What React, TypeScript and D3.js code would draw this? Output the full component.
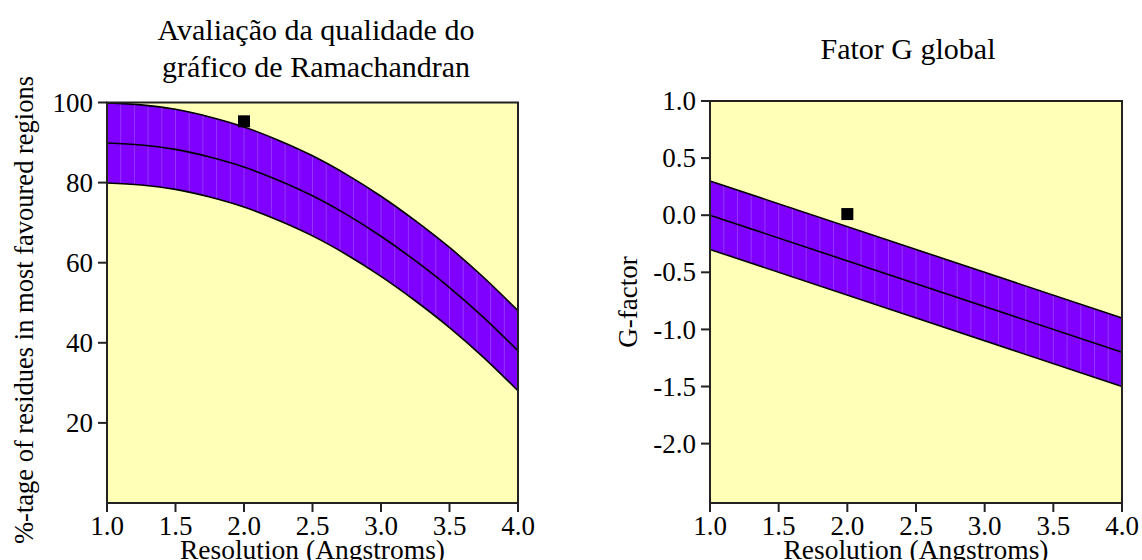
import React from "react";
import * as d3 from "d3";

// ---- Data ----
const ramaRes = [1.0, 1.25, 1.5, 1.75, 2.0, 2.25, 2.5, 2.75, 3.0, 3.25, 3.5, 3.75, 4.0];
const ramaMid = [89.9, 89.4, 88.3, 86.4, 83.9, 80.6, 76.7, 72.0, 66.6, 60.5, 53.8, 46.3, 38.0];
const ramaUpper = [99.9, 99.4, 98.3, 96.4, 93.9, 90.6, 86.7, 82.0, 76.6, 70.5, 63.8, 56.3, 48.0];
const ramaLower = [79.9, 79.4, 78.3, 76.4, 73.9, 70.6, 66.7, 62.0, 56.6, 50.5, 43.8, 36.3, 28.0];
const ramaPoint = { res: 2.0, value: 95.3 };
const ramaTicks = [20, 40, 60, 80, 100];

const gRes = [1.0, 4.0];
const gMid = [0.0, -1.2];
const gUpper = [0.3, -0.9];
const gLower = [-0.3, -1.5];
const gPoint = { res: 2.0, value: 0.01 };
const gTicks = [1.0, 0.5, 0.0, -0.5, -1.0, -1.5, -2.0];

const xTicks = [1.0, 1.5, 2.0, 2.5, 3.0, 3.5, 4.0];

const FONT = "Liberation Serif, Times New Roman, serif";
const BG = "#FFFFB8";
const BAND = "#7F00FF";
const STRIPE = "#9436FF";

type PanelProps = {
  id: string;
  x0: number; x1: number; yTop: number; yBot: number;
  yDomain: [number, number];
  res: number[]; mid: number[]; upper: number[]; lower: number[];
  point: { res: number; value: number };
  yTicks: number[];
  yFmt: (v: number) => string;
  curve: d3.CurveFactory;
};

const txt = (size: number) => ({ fontFamily: FONT, fontSize: size });

function Panel(p: PanelProps) {
  const x = d3.scaleLinear().domain([1, 4]).range([p.x0, p.x1]);
  const y = d3.scaleLinear().domain(p.yDomain).range([p.yBot, p.yTop]);
  const idx = p.res.map((_, i) => i);
  const area = d3
    .area<number>()
    .x((i) => x(p.res[i]))
    .y0((i) => y(p.lower[i]))
    .y1((i) => y(p.upper[i]))
    .curve(p.curve);
  const line = (arr: number[]) =>
    d3.line<number>().x((i) => x(p.res[i])).y((i) => y(arr[i])).curve(p.curve)(idx) || "";
  const stripes = d3.range(1.1, 3.95, 0.1);
  const sq = 12;
  return (
    <g>
      <defs>
        <clipPath id={`band-${p.id}`}>
          <path d={area(idx) || ""} />
        </clipPath>
      </defs>
      <rect x={p.x0} y={p.yTop} width={p.x1 - p.x0} height={p.yBot - p.yTop} fill={BG} />
      <path d={area(idx) || ""} fill={BAND} />
      <g clipPath={`url(#band-${p.id})`}>
        {stripes.map((s, i) => (
          <line key={i} x1={x(s)} x2={x(s)} y1={p.yTop} y2={p.yBot} stroke={STRIPE} strokeWidth={1} />
        ))}
      </g>
      <path d={line(p.upper)} fill="none" stroke="#000" strokeWidth={1.6} />
      <path d={line(p.mid)} fill="none" stroke="#000" strokeWidth={1.6} />
      <path d={line(p.lower)} fill="none" stroke="#000" strokeWidth={1.6} />
      <rect
        x={x(p.point.res) - sq / 2}
        y={y(p.point.value) - sq / 2}
        width={sq}
        height={sq}
        fill="#000"
      />
      <rect x={p.x0} y={p.yTop} width={p.x1 - p.x0} height={p.yBot - p.yTop} fill="none" stroke="#222" strokeWidth={2} />
      {p.yTicks.map((t) => (
        <g key={t}>
          <line x1={p.x0 - 9} x2={p.x0} y1={y(t)} y2={y(t)} stroke="#222" strokeWidth={2} />
          <text x={p.x0 - 14} y={y(t)} dy="0.34em" textAnchor="end" style={txt(27)} fill="#000">
            {p.yFmt(t)}
          </text>
        </g>
      ))}
      {xTicks.map((t) => (
        <g key={t}>
          <line x1={x(t)} x2={x(t)} y1={p.yBot} y2={p.yBot + 9} stroke="#222" strokeWidth={2} />
          <text x={x(t)} y={535} textAnchor="middle" style={txt(27)} fill="#000">
            {d3.format(".1f")(t)}
          </text>
        </g>
      ))}
      <text x={(p.x0 + p.x1) / 2} y={559} textAnchor="middle" style={txt(27.5)} fill="#000">
        Resolution (Angstroms)
      </text>
    </g>
  );
}

export default function App() {
  return (
    <svg
      width={1142}
      height={560}
      style={{ position: "absolute", left: 0, top: 0, background: "#fff" }}
    >
      <Panel
        id="rama"
        x0={107} x1={518} yTop={102.5} yBot={503}
        yDomain={[0, 100]}
        res={ramaRes} mid={ramaMid} upper={ramaUpper} lower={ramaLower}
        point={ramaPoint}
        yTicks={ramaTicks}
        yFmt={(v) => String(v)}
        curve={d3.curveMonotoneX}
      />
      <Panel
        id="g"
        x0={710} x1={1122} yTop={101} yBot={503}
        yDomain={[-2.52, 1.0]}
        res={gRes} mid={gMid} upper={gUpper} lower={gLower}
        point={gPoint}
        yTicks={gTicks}
        yFmt={(v) => d3.format(".1f")(v).replace("−", "-")}
        curve={d3.curveLinear}
      />
      <text x={316} y={40} textAnchor="middle" style={txt(30)} fill="#000">
        Avaliação da qualidade do
      </text>
      <text x={316} y={77} textAnchor="middle" style={txt(30)} fill="#000">
        gráfico de Ramachandran
      </text>
      <text x={908} y={59} textAnchor="middle" style={txt(30)} fill="#000">
        Fator G global
      </text>
      <text
        transform={`translate(33,310) rotate(-90)`}
        textAnchor="middle"
        style={txt(26.5)}
        fill="#000"
      >
        %-tage of residues in most favoured regions
      </text>
      <text
        transform={`translate(637,302) rotate(-90)`}
        textAnchor="middle"
        style={txt(27)}
        fill="#000"
      >
        G-factor
      </text>
    </svg>
  );
}
